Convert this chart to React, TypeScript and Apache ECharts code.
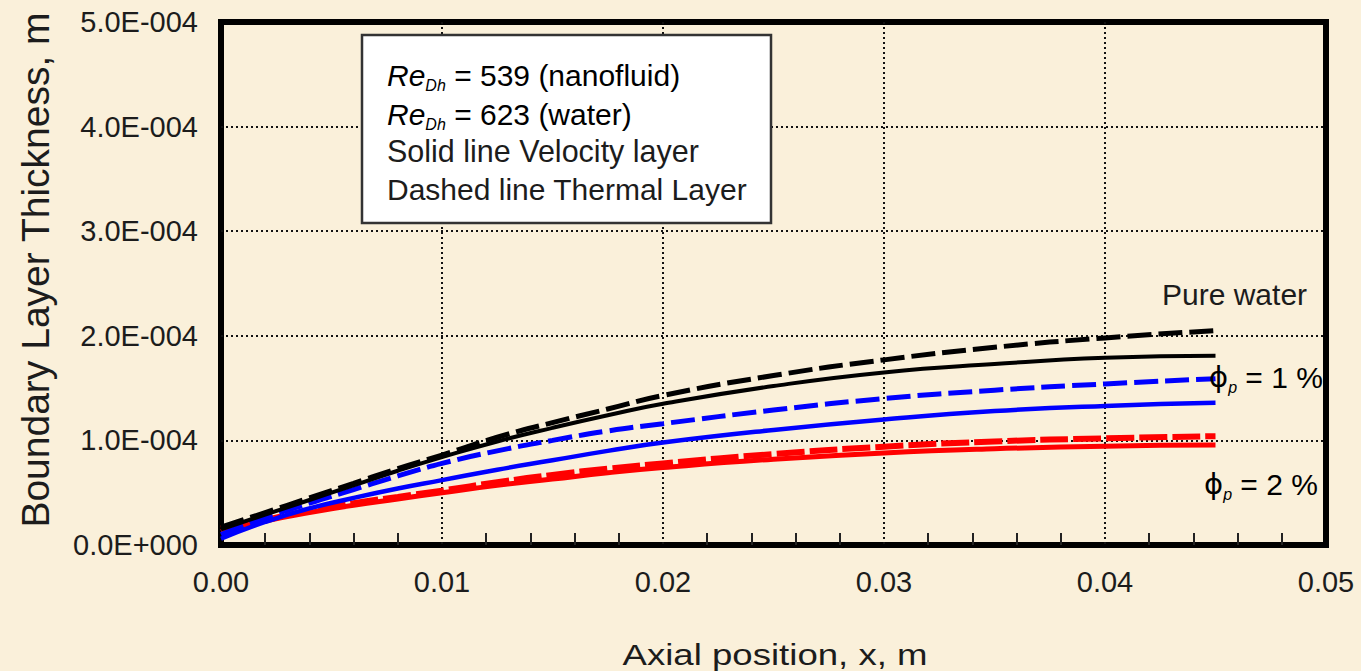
import React, { useEffect, useRef } from "react";
import * as echarts from "echarts";

// Axial position, m
const xPositions = [0, 0.002, 0.004, 0.006, 0.008, 0.01, 0.0125, 0.015, 0.0175, 0.02, 0.025, 0.03, 0.035, 0.04, 0.045];

// Boundary layer thickness, m
const waterThermal = [1.7e-5, 3.1e-5, 4.5e-5, 5.9e-5, 7.3e-5, 8.6e-5, 10.3e-5, 11.7e-5, 13.0e-5, 14.3e-5, 16.2e-5, 17.7e-5, 18.9e-5, 19.8e-5, 20.5e-5];
const waterVelocity = [1.5e-5, 2.9e-5, 4.3e-5, 5.7e-5, 7.1e-5, 8.4e-5, 9.9e-5, 11.2e-5, 12.4e-5, 13.5e-5, 15.2e-5, 16.5e-5, 17.3e-5, 17.9e-5, 18.1e-5];
const phi1Thermal = [1.0e-5, 2.6e-5, 4.0e-5, 5.3e-5, 6.6e-5, 7.8e-5, 9.0e-5, 10.0e-5, 10.9e-5, 11.6e-5, 12.9e-5, 14.0e-5, 14.8e-5, 15.4e-5, 15.9e-5];
const phi1Velocity = [0.6e-5, 2.2e-5, 3.5e-5, 4.5e-5, 5.4e-5, 6.2e-5, 7.2e-5, 8.1e-5, 9.0e-5, 9.8e-5, 11.0e-5, 12.0e-5, 12.8e-5, 13.3e-5, 13.6e-5];
const phi2Thermal = [1.6e-5, 2.4e-5, 3.3e-5, 4.0e-5, 4.6e-5, 5.2e-5, 6.0e-5, 6.7e-5, 7.3e-5, 7.8e-5, 8.7e-5, 9.4e-5, 9.9e-5, 10.2e-5, 10.4e-5];
const phi2Velocity = [1.3e-5, 2.3e-5, 3.1e-5, 3.8e-5, 4.4e-5, 5.0e-5, 5.7e-5, 6.3e-5, 6.9e-5, 7.4e-5, 8.2e-5, 8.8e-5, 9.2e-5, 9.45e-5, 9.55e-5];

const xTickLabels = ["0.00", "0.01", "0.02", "0.03", "0.04", "0.05"];
const yTickLabels = ["0.0E+000", "1.0E-004", "2.0E-004", "3.0E-004", "4.0E-004", "5.0E-004"];

const xAxisTitle = "Axial position, x, m";
const yAxisTitle = "Boundary Layer Thickness, m";
const noteLines = [" = 539 (nanofluid)", " = 623 (water)", "Solid line Velocity layer", "Dashed line Thermal Layer"];
const curveLabels = ["Pure water", " = 1 %", " = 2 %"];

const FONT = "'Liberation Sans', Arial, sans-serif";
const TXT = "#1c1c1c";

function pair(ys: number[]) {
  return xPositions.map((x, i) => [x, ys[i]]);
}

export default function App() {
  const ref = useRef<HTMLDivElement>(null);

  useEffect(() => {
    document.body.style.margin = "0";
    const chart = echarts.init(ref.current!, null, { renderer: "svg" });

    const line = (name: string, data: number[], color: string, width: number, dashed: number[] | null, z: number) => ({
      name,
      type: "line",
      data: pair(data),
      smooth: true,
      showSymbol: false,
      symbol: "none",
      z,
      lineStyle: { color, width, type: dashed ? dashed : "solid", cap: "butt" },
    });

    const rich = {
      it: { fontFamily: FONT, fontSize: 30, fontStyle: "italic", color: TXT, lineHeight: 36 },
      n: { fontFamily: FONT, fontSize: 30, color: TXT, lineHeight: 36 },
      sub: { fontFamily: FONT, fontSize: 16, fontStyle: "italic", color: TXT, lineHeight: 16, verticalAlign: "bottom" },
      phi: { fontFamily: "'DejaVu Sans', sans-serif", fontSize: 29, color: TXT, lineHeight: 36 },
    };

    chart.setOption({
      animation: false,
      backgroundColor: "#FAF0DA",
      grid: {
        left: 221,
        right: 35,
        top: 22,
        bottom: 126,
        show: true,
        borderColor: "#000",
        borderWidth: 6,
        backgroundColor: "transparent",
        containLabel: false,
      },
      xAxis: {
        type: "value",
        min: 0,
        max: 0.05,
        interval: 0.01,
        axisLine: { show: false },
        axisTick: { show: false, inside: true },
        minorTick: { show: true, splitNumber: 5, length: 12, lineStyle: { color: "#222", width: 2 } },
        axisLabel: {
          margin: 22,
          fontFamily: FONT,
          fontSize: 29,
          color: TXT,
          formatter: (v: number) => xTickLabels[Math.round(v / 0.01)] ?? "",
        },
        splitLine: {
          show: true,
          showMinLine: false,
          showMaxLine: false,
          lineStyle: { color: "#111", width: 2, type: [2, 3] },
        },
      },
      yAxis: {
        type: "value",
        min: 0,
        max: 5e-4,
        interval: 1e-4,
        axisLine: { show: false },
        axisTick: { show: false },
        axisLabel: {
          margin: 23,
          fontFamily: FONT,
          fontSize: 29,
          color: TXT,
          formatter: (v: number) => yTickLabels[Math.round(v / 1e-4)] ?? "",
        },
        splitLine: {
          show: true,
          showMinLine: false,
          showMaxLine: false,
          lineStyle: { color: "#111", width: 2, type: [2, 3] },
        },
      },
      series: [
        line("Water thermal", waterThermal, "#000000", 5, [24, 7], 10),
        line("Water velocity", waterVelocity, "#000000", 4, null, 9),
        line("1% thermal", phi1Thermal, "#0000FF", 5, [24, 7], 8),
        line("1% velocity", phi1Velocity, "#0000FF", 4.5, null, 7),
        line("2% thermal", phi2Thermal, "#FF0000", 6, [28, 5], 6),
        line("2% velocity", phi2Velocity, "#FF0000", 5, null, 5),
      ],
      graphic: [
        {
          type: "text",
          z: 100,
          x: 775,
          y: 655,
          scaleX: 1.22,
          style: { text: xAxisTitle, fontFamily: FONT, fontSize: 30, fill: TXT, align: "center", verticalAlign: "middle" },
        },
        {
          type: "text",
          z: 100,
          x: 35,
          y: 270,
          rotation: Math.PI / 2,
          style: { text: yAxisTitle, fontFamily: FONT, fontSize: 39, fill: TXT, align: "center", verticalAlign: "middle" },
        },
        {
          type: "rect",
          z: 100,
          shape: { x: 362, y: 35, width: 409, height: 188 },
          style: { fill: "#FFFFFF", stroke: "#333", lineWidth: 2.5 },
        },
        {
          type: "text",
          z: 101,
          x: 387,
          y: 75,
          style: { text: "{it|Re}{sub|Dh}{n|" + noteLines[0] + "}", rich, verticalAlign: "middle" },
        },
        {
          type: "text",
          z: 101,
          x: 387,
          y: 114,
          style: { text: "{it|Re}{sub|Dh}{n|" + noteLines[1] + "}", rich, verticalAlign: "middle" },
        },
        {
          type: "text",
          z: 101,
          x: 387,
          y: 151,
          style: { text: noteLines[2], fontFamily: FONT, fontSize: 30.5, fill: TXT, verticalAlign: "middle" },
        },
        {
          type: "text",
          z: 101,
          x: 387,
          y: 189,
          style: { text: noteLines[3], fontFamily: FONT, fontSize: 30, fill: TXT, verticalAlign: "middle" },
        },
        {
          type: "text",
          z: 101,
          x: 1162,
          y: 294,
          style: { text: curveLabels[0], fontFamily: FONT, fontSize: 30, fill: TXT, verticalAlign: "middle" },
        },
        {
          type: "text",
          z: 101,
          x: 1209,
          y: 377,
          style: { text: "{phi|ϕ}{sub|p}{n|" + curveLabels[1] + "}", rich, verticalAlign: "middle" },
        },
        {
          type: "text",
          z: 101,
          x: 1204,
          y: 484,
          style: { text: "{phi|ϕ}{sub|p}{n|" + curveLabels[2] + "}", rich, verticalAlign: "middle" },
        },
      ],
    });

    return () => chart.dispose();
  }, []);

  return <div ref={ref} style={{ width: 1361, height: 671, position: "absolute", left: 0, top: 0 }} />;
}
